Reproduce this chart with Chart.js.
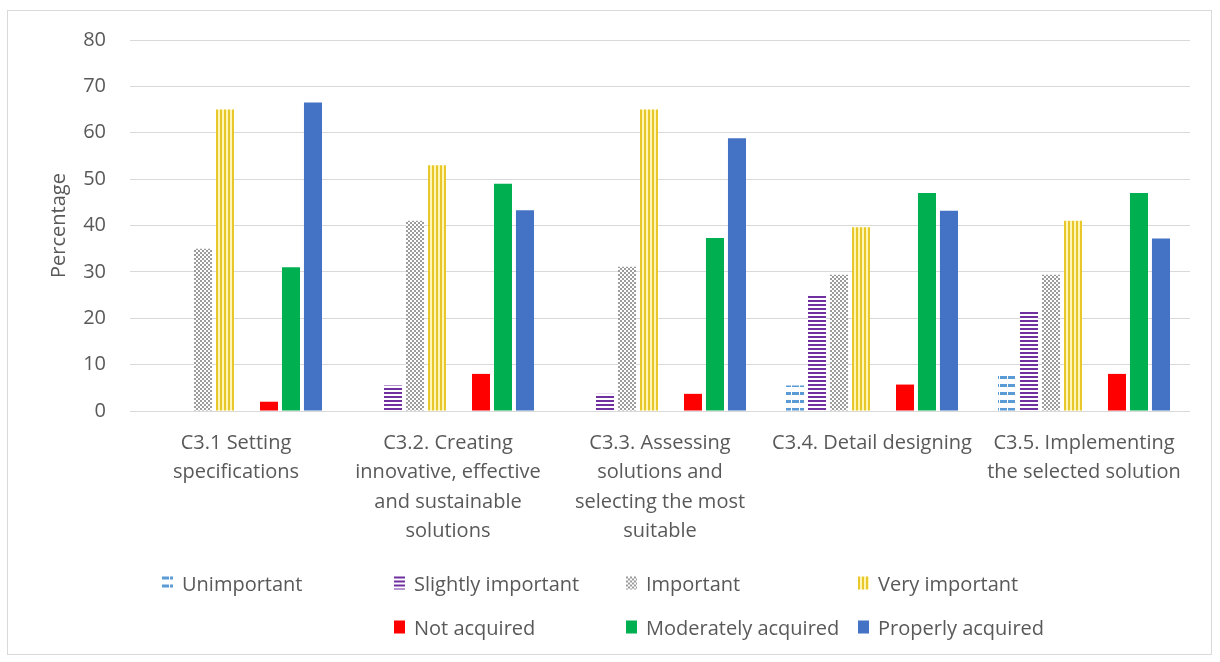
<!DOCTYPE html>
<html>
<head>
<meta charset="utf-8">
<script src="https://cdn.jsdelivr.net/npm/chart.js@4.4.0/dist/chart.umd.min.js"></script>
<style>
    body { margin: 0; background: #fff; }
    #wrap { position: relative; width: 1220px; height: 662px; }
    #frame { position: absolute; left: 7px; top: 10px; width: 1205px; height: 645px; border: 1px solid #d9d9d9; box-sizing: border-box; }
    #chart { position: absolute; left: 0; top: 0; }
    .lg { position: absolute; font-family: "Open Sans", sans-serif; font-size: 20px; color: #595959; display: flex; align-items: center; white-space: nowrap; transform: translateY(-50%); }
    .lg canvas { margin-right: 9px; }
</style>
</head>
<body>
<div id="wrap">
    <div id="frame"></div>
    <canvas id="chart" width="1220" height="662"></canvas>
</div>
<script>
const categories = [
    ['C3.1 Setting', 'specifications'],
    ['C3.2. Creating', 'innovative, effective', 'and sustainable', 'solutions'],
    ['C3.3. Assessing', 'solutions and', 'selecting the most', 'suitable'],
    ['C3.4. Detail designing'],
    ['C3.5. Implementing', 'the selected solution']
];

const unimportant = [0, 0, 0, 5.5, 8];
const slightlyImportant = [0, 5.5, 3.7, 25.2, 21.8];
const important = [35, 41, 31.1, 29.4, 29.4];
const veryImportant = [65, 53, 65, 39.6, 41];
const notAcquired = [2, 8, 3.7, 5.7, 8];
const moderatelyAcquired = [31, 49, 37.3, 47, 47];
const properlyAcquired = [66.5, 43.3, 58.8, 43.2, 37.2];

const seriesLabels = ['Unimportant', 'Slightly important', 'Important', 'Very important',
    'Not acquired', 'Moderately acquired', 'Properly acquired'];

const yMin = 0;
const yMax = 80;
const yStep = 10;

// small tiles that imitate the Excel pattern fills
function makeTile(kind) {
    const c = document.createElement('canvas');
    const g = c.getContext('2d');
    if (kind === 'dash') {
        c.width = 8; c.height = 8;
        g.fillStyle = '#fff'; g.fillRect(0, 0, 8, 8);
        g.fillStyle = '#5b9bd5'; g.fillRect(0, 0, 7, 3);
    } else if (kind === 'hline') {
        c.width = 4; c.height = 4;
        g.fillStyle = '#fff'; g.fillRect(0, 0, 4, 4);
        g.fillStyle = '#7030a0'; g.fillRect(0, 0, 4, 2);
    } else if (kind === 'check') {
        c.width = 4; c.height = 4;
        g.fillStyle = '#fff'; g.fillRect(0, 0, 4, 4);
        g.fillStyle = '#9c9c9c'; g.fillRect(0, 0, 2, 2); g.fillRect(2, 2, 2, 2);
    } else if (kind === 'vline') {
        c.width = 4; c.height = 4;
        g.fillStyle = '#fff5b5'; g.fillRect(0, 0, 4, 4);
        g.fillStyle = '#e8c72a'; g.fillRect(0, 0, 2, 4);
    }
    return c;
}

const ctx = document.getElementById('chart').getContext('2d');
const pat = kind => ctx.createPattern(makeTile(kind), 'repeat');
const patternKinds = ['dash', 'hline', 'check', 'vline'];

const fills = [pat('dash'), pat('hline'), pat('check'), pat('vline'), '#ff0000', '#00b050', '#4472c4'];
const seriesData = [unimportant, slightlyImportant, important, veryImportant,
    notAcquired, moderatelyAcquired, properlyAcquired];

const datasets = seriesData.map((d, i) => ({
    label: seriesLabels[i],
    data: d,
    backgroundColor: fills[i],
    borderWidth: 0
}));
// empty slot between the importance and acquisition groups
datasets.splice(4, 0, { label: '', data: categories.map(() => null), backgroundColor: 'rgba(0,0,0,0)' });

Chart.defaults.font.family = '"Open Sans", sans-serif';
Chart.defaults.color = '#595959';

new Chart(ctx, {
    type: 'bar',
    data: {
        labels: categories,
        datasets: datasets
    },
    options: {
        responsive: false,
        animation: false,
        layout: {
            padding: { top: 40, right: 30, left: 0, bottom: 0 }
        },
        categoryPercentage: 0.83,
        barPercentage: 0.82,
        plugins: {
            legend: { display: false },
            tooltip: { enabled: false }
        },
        scales: {
            x: {
                grid: { display: false },
                border: { display: false },
                ticks: {
                    maxRotation: 0,
                    autoSkip: false,
                    padding: 9,
                    font: { size: 20, lineHeight: 1.48 },
                    color: '#595959'
                },
                afterFit: function (scale) {
                    scale.height = 251;
                }
            },
            y: {
                min: yMin,
                max: yMax,
                ticks: {
                    stepSize: yStep,
                    padding: 24,
                    font: { size: 20 },
                    color: '#595959'
                },
                grid: {
                    color: '#d9d9d9',
                    drawTicks: false
                },
                border: { display: false },
                title: {
                    display: true,
                    text: 'Percentage',
                    font: { size: 20 },
                    color: '#595959',
                    padding: { top: 47, bottom: 0 }
                },
                afterFit: function (scale) {
                    scale.width = 130;
                }
            }
        }
    }
});

// legend on Excel's 4-column grid; cell 5 belongs to the unnamed spacer series
const legendCol0 = 162;
const legendColW = 232;
const legendRows = [583, 627];
const wrap = document.getElementById('wrap');
seriesLabels.forEach((name, i) => {
    const cell = i < 4 ? i : i + 1;
    const item = document.createElement('div');
    item.className = 'lg';
    item.style.left = (legendCol0 + (cell % 4) * legendColW) + 'px';
    item.style.top = legendRows[Math.floor(cell / 4)] + 'px';
    const sw = document.createElement('canvas');
    sw.width = 11; sw.height = 13;
    const sg = sw.getContext('2d');
    sg.fillStyle = typeof fills[i] === 'string' ? fills[i] : sg.createPattern(makeTile(patternKinds[i]), 'repeat');
    sg.fillRect(0, 0, 11, 13);
    item.appendChild(sw);
    item.appendChild(document.createTextNode(name));
    wrap.appendChild(item);
});
</script>
</body>
</html>
